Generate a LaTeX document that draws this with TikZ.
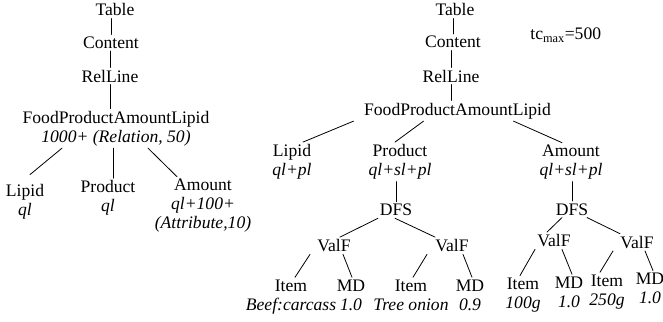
\documentclass[tikz,border=0pt]{standalone}
\usepackage{fontspec}
\setmainfont{Liberation Serif}
\begin{document}
\begin{tikzpicture}[x=1pt, y=-1pt, line width=0.8pt, line cap=round,
	lbl/.style={font=\fontsize{17.6}{18.8}\selectfont, inner sep=2pt, anchor=base, align=center}]
	\useasboundingbox (0,0) rectangle (663,321);
	
	% left tree (base = last line)
	\node[lbl] (tabL) at (115,16) {Table};
	\node[lbl] (conL) at (111,48.5) {Content};
	\node[lbl] (relL) at (110,82) {RelLine};
	\node[lbl] (fplL) at (116,142) {FoodProductAmountLipid\\\textit{1000+ (Relation, 50)}};
	\node[lbl] (lipL) at (25,215) {Lipid\\\textit{ql}};
	\node[lbl] (proL) at (108,211.7) {Product\\\textit{ql}};
	\node[lbl] (amoL) at (203,228.3) {Amount\\\textit{ql+100+}\\\textit{(Attribute,10)}};
	
	\draw (tabL.south -| conL) -- (conL.north);
	\draw (conL.south -| relL) -- (relL.north);
	\draw (relL.south) -- (relL.south |- fplL.north);
	\draw ([xshift=-54pt]fplL.south) -- ([xshift=5pt,yshift=7pt]lipL.north);
	\draw ([xshift=-3pt]fplL.south) -- ([xshift=5pt]proL.north);
	\draw ([xshift=32pt]fplL.south) -- ([xshift=-26pt]amoL.north);
	
	% right tree
	\node[lbl] (tabR) at (455,16) {Table};
	\node[lbl] (conR) at (453,48) {Content};
	\node[lbl] (relR) at (451,82) {RelLine};
	\node[lbl] (fplR) at (457.5,115) {FoodProductAmountLipid};
	\node[lbl, anchor=base west] (tcm) at (528,40) {tc\textsubscript{max}=500};
	\node[lbl] (lipR) at (292,175.5) {Lipid\\\textit{ql+pl}};
	\node[lbl] (proR) at (400,175.5) {Product\\\textit{ql+sl+pl}};
	\node[lbl] (amoR) at (571,175.5) {Amount\\\textit{ql+sl+pl}};
	
	\node[lbl] (dfsA) at (396,215.7) {DFS};
	\node[lbl] (valA1) at (334,251.7) {ValF};
	\node[lbl] (valA2) at (452,251.7) {ValF};
	\node[lbl] (itmA1) at (291,310) {Item\\\textit{Beef:carcass}};
	\node[lbl] (mdA1) at (351,310) {MD\\\textit{1.0}};
	\node[lbl] (itmA2) at (411,310) {Item\\\textit{Tree onion}};
	\node[lbl] (mdA2) at (470,310) {MD\\\textit{0.9}};
	
	\node[lbl] (dfsB) at (572,215) {DFS};
	\node[lbl] (valB1) at (554,246.7) {ValF};
	\node[lbl] (valB2) at (637,248.3) {ValF};
	\node[lbl] (itmB1) at (523,308.3) {Item\\\textit{100g}};
	\node[lbl] (mdB1) at (569,307) {MD\\\textit{1.0}};
	\node[lbl] (itmB2) at (607,305) {Item\\\textit{250g}};
	\node[lbl] (mdB2) at (650,303.3) {MD\\\textit{1.0}};
	
	\draw (tabR.south -| conR) -- (conR.north);
	\draw (conR.south -| relR) -- (relR.north);
	\draw (relR.south) -- (relR.south |- fplR.north);
	\draw ([xshift=-104pt]fplR.south) -- ([xshift=11pt]lipR.north);
	\draw ([xshift=-34pt]fplR.south) -- ([xshift=-5pt]proR.north);
	\draw ([xshift=56pt]fplR.south) -- ([xshift=-9pt]amoR.north);
	
	\draw (proR.south -| dfsA) -- (dfsA.north);
	\draw ([xshift=-18pt]dfsA.south) -- ([xshift=6pt]valA1.north);
	\draw ([xshift=-1pt]dfsA.south) -- ([xshift=-17pt]valA2.north);
	\draw ([xshift=-24pt]valA1.south) -- ([xshift=4pt]itmA1.north);
	\draw ([xshift=9pt]valA1.south) -- ([xshift=1pt]mdA1.north);
	\draw ([xshift=-25pt]valA2.south) -- ([xshift=2pt]itmA2.north);
	\draw ([xshift=11pt]valA2.south) -- ([xshift=2pt]mdA2.north);
	
	\draw (amoR.south -| dfsB) -- (dfsB.north);
	\draw ([xshift=-10pt]dfsB.south) -- ([xshift=-7pt]valB1.north);
	\draw ([xshift=15pt]dfsB.south) -- ([xshift=-17pt]valB2.north);
	\draw ([xshift=-19pt]valB1.south) -- ([xshift=-3pt]itmB1.north);
	\draw ([xshift=8pt]valB1.south) -- ([xshift=3pt]mdB1.north);
	\draw ([xshift=-24pt]valB2.south) -- ([xshift=-7pt]itmB2.north);
	\draw ([xshift=8pt]valB2.south) -- ([xshift=3pt]mdB2.north);
\end{tikzpicture}
\end{document}
